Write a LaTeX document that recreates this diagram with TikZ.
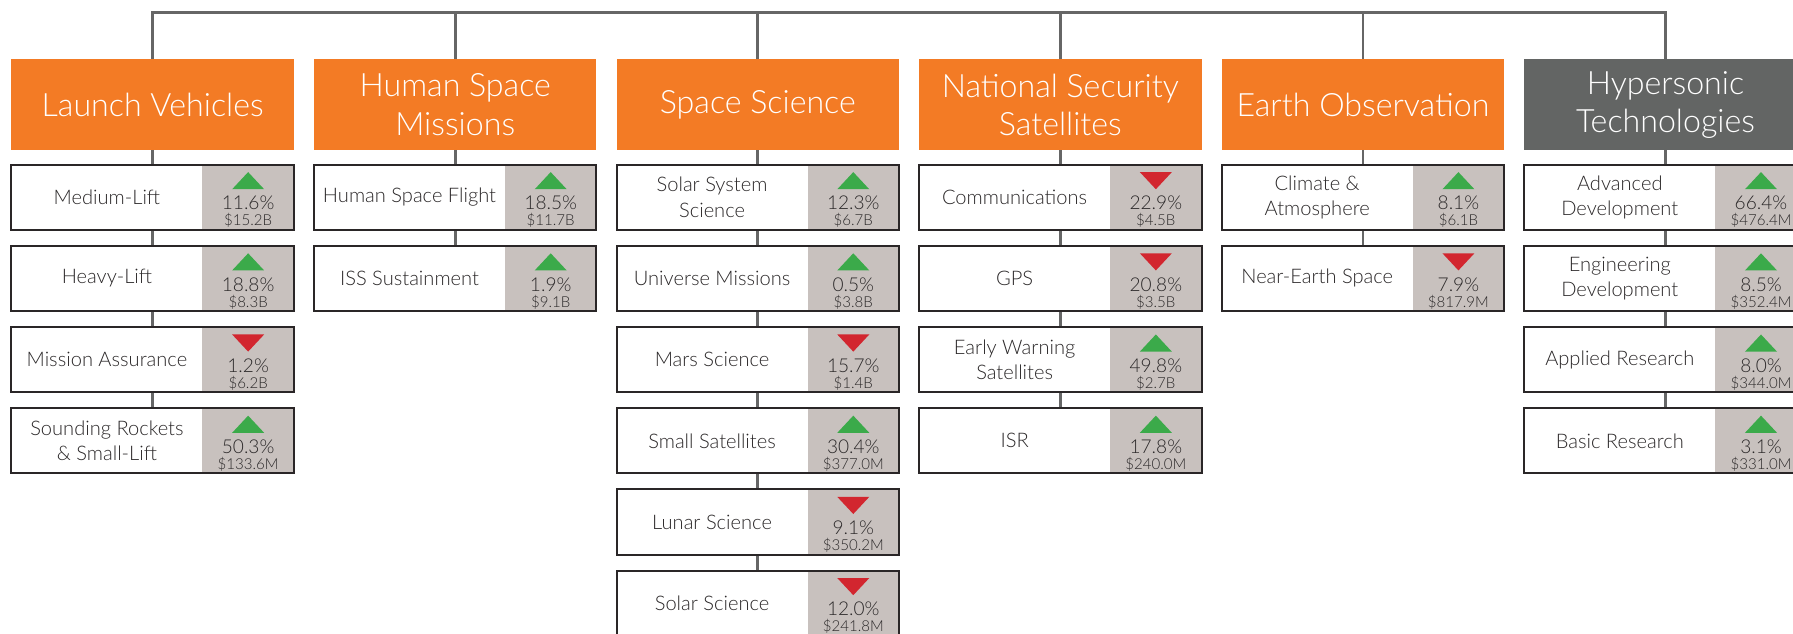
\documentclass[tikz,border=0pt]{standalone}
\usepackage{fontspec}
\setmainfont{Lato}[UprightFont=* Light]
\definecolor{hdorange}{HTML}{F37B25}
\definecolor{hdgray}{HTML}{636564}
\definecolor{panelgray}{HTML}{C8C1BE}
\definecolor{boxline}{HTML}{2A2627}
\definecolor{linkgray}{HTML}{666666}
\definecolor{risegreen}{HTML}{3BAA4A}
\definecolor{fallred}{HTML}{D2262F}
\definecolor{ink}{HTML}{2B2829}

\begin{document}
\begin{tikzpicture}[x=0.02cm, y=-0.02cm,
    head/.style={text=white, minimum width=4.94cm, minimum height=1.58cm,
      inner sep=0pt, align=center, font=\fontsize{16}{19}\selectfont},
    item/.style={draw=boxline, line width=1pt, fill=white, minimum width=4.94cm,
      minimum height=1.14cm, inner sep=0pt,
      path picture={\fill[panelgray] ([xshift=-1.6cm]path picture bounding box.north east)
        rectangle (path picture bounding box.south east);}},
    lbl/.style={text=ink, align=center, font=\fontsize{10}{12.5}\selectfont},
    pct/.style={text=ink, anchor=base, inner sep=0pt, font=\fontsize{9.5}{11}\selectfont},
    amt/.style={text=ink, anchor=base, inner sep=0pt, font=\fontsize{7.5}{9}\selectfont},
    link/.style={draw=linkgray, line width=1.4pt}]

  \useasboundingbox (0,0) rectangle (1568,554);
  \clip (0,0) rectangle (1568,554);

  \coordinate (bar) at (0,11);

  % program areas
  \foreach \col/\hue/\title in {1/hdorange/Launch Vehicles, 2/hdorange/Human Space\\Missions,
      3/hdorange/Space Science, 4/hdorange/National Security\\Satellites,
      5/hdorange/Earth Observation, 6/hdgray/Hypersonic\\Technologies}{
    \pgfmathsetmacro\cx{133.5+264.6*(\col-1)}
    \node[head, fill=\hue] (hd\col) at (\cx,91.5) {\title};
  }
  \draw[link] (hd1.north) -- (hd1.north |- bar) -- (hd6.north |- bar) -- (hd6.north);
  \foreach \col in {2,...,5}
    \draw[link] (hd\col.north) -- (hd\col.north |- bar);

  % budget lines: label / trend (1 up, -1 down) / change / amount
  \foreach \col/\items in {
      1/{Medium-Lift/1/11.6/15.2B, Heavy-Lift/1/18.8/8.3B, Mission Assurance/-1/1.2/6.2B,
         {Sounding Rockets\\\& Small-Lift}/1/50.3/133.6M},
      2/{Human Space Flight/1/18.5/11.7B, ISS Sustainment/1/1.9/9.1B},
      3/{{Solar System\\Science}/1/12.3/6.7B, Universe Missions/1/0.5/3.8B,
         Mars Science/-1/15.7/1.4B, Small Satellites/1/30.4/377.0M,
         Lunar Science/-1/9.1/350.2M, Solar Science/-1/12.0/241.8M},
      4/{Communications/-1/22.9/4.5B, GPS/-1/20.8/3.5B,
         {Early Warning\\Satellites}/1/49.8/2.7B, ISR/1/17.8/240.0M},
      5/{{Climate \&\\Atmosphere}/1/8.1/6.1B, Near-Earth Space/-1/7.9/817.9M},
      6/{{Advanced\\Development}/1/66.4/476.4M, {Engineering\\Development}/1/8.5/352.4M,
         Applied Research/1/8.0/344.0M, Basic Research/1/3.1/331.0M}}{
    \pgfmathsetmacro\cx{133.5+264.6*(\col-1)}
    \foreach \lb/\dir/\pc/\am [count=\k] in \items {
      \pgfmathsetmacro\rowy{144+71*(\k-1)}
      \pgfmathtruncatemacro\prev{\k-1}
      \ifnum\dir>0 \def\tc{risegreen}\else\def\tc{fallred}\fi
      \node[item] (it\col-\k) at (\cx,\rowy+28.5) {};
      \node[lbl] at (\cx-40,\rowy+28.5) {\lb};
      \fill[\tc] (\cx+69.5,\rowy+14+7.5*\dir) -- (\cx+97.5,\rowy+14+7.5*\dir)
        -- (\cx+83.5,\rowy+14-7.5*\dir) -- cycle;
      \node[pct] at (\cx+83.5,\rowy+39.5) {\pc\%};
      \node[amt] at (\cx+83.5,\rowy+53.5) {\$\am};
      \ifnum\k=1
        \draw[link] (hd\col) -- (it\col-\k);
      \else
        \draw[link] (it\col-\prev) -- (it\col-\k);
      \fi
    }
  }

\end{tikzpicture}
\end{document}
